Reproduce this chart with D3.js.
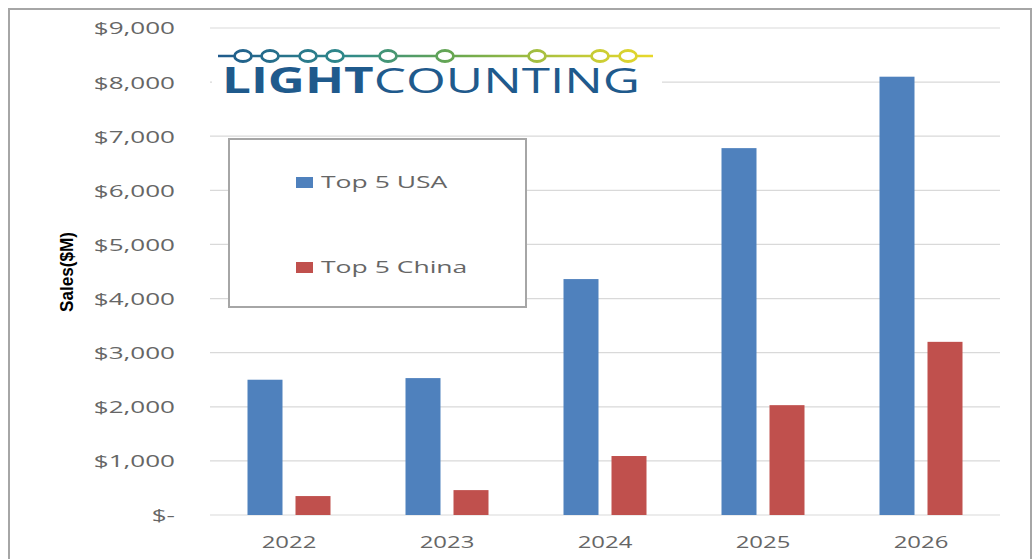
<!DOCTYPE html>
<html>
<head>
<meta charset="utf-8">
<script src="https://cdn.jsdelivr.net/npm/d3@7"></script>
<style>
  html, body { margin: 0; padding: 0; background: #fff; }
  svg { display: block; }
</style>
</head>
<body>
<div id="chart"></div>
<script>
const years = ['2022', '2023', '2024', '2025', '2026'];
const series = ['Top 5 USA', 'Top 5 China'];
const usaSales = [2500, 2530, 4360, 6780, 8100];
const chinaSales = [350, 460, 1090, 2030, 3200];
const yTicks = [0, 1000, 2000, 3000, 4000, 5000, 6000, 7000, 8000, 9000];
const logoDots = [243, 270, 308, 335, 388, 445, 537, 600, 628];

const W = 1035, H = 559;
const plot = { left: 210, right: 1000, top: 28, bottom: 515 };
const colors = { 'Top 5 USA': '#4f81bd', 'Top 5 China': '#c0504d' };
const textGray = '#666666';
const stretch = 1.45; // source image is widened horizontally

const svg = d3.select('#chart').append('svg')
  .attr('width', W)
  .attr('height', H);

// outer chart frame
svg.append('rect')
  .attr('x', 9).attr('y', 9)
  .attr('width', 1022).attr('height', H)
  .attr('fill', '#fff')
  .attr('stroke', '#a6a6a6')
  .attr('stroke-width', 2);

const x0 = d3.scaleBand()
  .domain(years)
  .range([plot.left, plot.right])
  .padding(0);

const groupW = 83;
const x1 = d3.scaleBand()
  .domain(series)
  .range([(x0.bandwidth() - groupW) / 2, (x0.bandwidth() + groupW) / 2])
  .paddingInner(13 / 48);

const y = d3.scaleLinear()
  .domain([0, 9000])
  .range([plot.bottom, plot.top]);

// gridlines
svg.append('g')
  .selectAll('line')
  .data(yTicks)
  .enter()
  .append('line')
  .attr('x1', plot.left)
  .attr('x2', plot.right)
  .attr('y1', d => y(d))
  .attr('y2', d => y(d))
  .attr('stroke', '#d9d9d9')
  .attr('stroke-width', 1.2);

// y axis labels
const fmt = d3.format(',');
const yAxis = svg.append('g')
  .attr('transform', 'translate(175,0)')
  .call(d3.axisLeft(y).tickValues(yTicks).tickSize(0).tickPadding(0)
    .tickFormat(d => d === 0 ? '$-' : '$' + fmt(d)));
yAxis.select('.domain').remove();
yAxis.selectAll('text')
  .attr('x', 0)
  .attr('dy', '0.36em')
  .attr('transform', 'scale(1.58,1)')
  .style('font-family', '"Open Sans", "DejaVu Sans", sans-serif')
  .style('font-size', '16.5px')
  .attr('fill', textGray);

// x axis labels
const xAxis = svg.append('g')
  .attr('transform', `translate(0,${plot.bottom})`)
  .call(d3.axisBottom(x0).tickSize(0).tickPadding(0));
xAxis.select('.domain').remove();
xAxis.selectAll('text')
  .attr('y', 33)
  .attr('dy', 0)
  .attr('transform', `scale(${stretch},1)`)
  .style('font-family', '"Open Sans", "DejaVu Sans", sans-serif')
  .style('font-size', '16.5px')
  .attr('fill', textGray);

// bars
const rows = years.map((yr, i) => ({ year: yr, values: [
  { key: series[0], value: usaSales[i] },
  { key: series[1], value: chinaSales[i] }
] }));

svg.append('g')
  .selectAll('g')
  .data(rows)
  .enter()
  .append('g')
  .attr('transform', d => `translate(${x0(d.year)},0)`)
  .selectAll('rect')
  .data(d => d.values)
  .enter()
  .append('rect')
  .attr('x', d => x1(d.key))
  .attr('y', d => y(d.value))
  .attr('width', x1.bandwidth())
  .attr('height', d => y(0) - y(d.value))
  .attr('fill', d => colors[d.key]);

// y axis title
svg.append('text')
  .attr('transform', 'translate(73,272) rotate(-90)')
  .attr('text-anchor', 'middle')
  .attr('textLength', 80)
  .attr('lengthAdjust', 'spacingAndGlyphs')
  .style('font-family', '"Liberation Sans Narrow", "Liberation Sans", sans-serif')
  .style('font-weight', 'bold')
  .style('font-size', '19px')
  .attr('fill', '#000')
  .text('Sales($M)');

// legend
const legend = svg.append('g');
legend.append('rect')
  .attr('x', 229).attr('y', 139)
  .attr('width', 297).attr('height', 168)
  .attr('fill', '#fff')
  .attr('stroke', '#a6a6a6')
  .attr('stroke-width', 2);

const legendItem = legend.selectAll('.item')
  .data(series)
  .enter()
  .append('g')
  .attr('class', 'item')
  .attr('transform', (d, i) => `translate(296,${177 + i * 85})`);

legendItem.append('rect')
  .attr('width', 17)
  .attr('height', 11)
  .attr('fill', d => colors[d]);

legendItem.append('text')
  .attr('x', 0)
  .attr('y', 11)
  .attr('transform', 'translate(25,0) scale(1.56,1)')
  .style('font-family', '"Open Sans", "DejaVu Sans", sans-serif')
  .style('font-size', '17px')
  .attr('fill', textGray)
  .text(d => d);

// logo
const defs = svg.append('defs');
const grad = defs.append('linearGradient')
  .attr('id', 'logoGrad')
  .attr('gradientUnits', 'userSpaceOnUse')
  .attr('x1', 218).attr('x2', 653)
  .attr('y1', 0).attr('y2', 0);
grad.append('stop').attr('offset', '0%').attr('stop-color', '#1f5a8c');
grad.append('stop').attr('offset', '30%').attr('stop-color', '#2f8a8a');
grad.append('stop').attr('offset', '55%').attr('stop-color', '#6aa84f');
grad.append('stop').attr('offset', '80%').attr('stop-color', '#b8c63a');
grad.append('stop').attr('offset', '100%').attr('stop-color', '#e8d82a');

const logo = svg.append('g');
logo.append('rect')
  .attr('x', 212).attr('y', 40)
  .attr('width', 450).attr('height', 62)
  .attr('fill', '#fff');
logo.append('line')
  .attr('x1', 218).attr('x2', 653)
  .attr('y1', 56).attr('y2', 56)
  .attr('stroke', 'url(#logoGrad)')
  .attr('stroke-width', 2.5);
logo.selectAll('ellipse')
  .data(logoDots)
  .enter()
  .append('ellipse')
  .attr('cx', d => d)
  .attr('cy', 56)
  .attr('rx', 8.5)
  .attr('ry', 5.5)
  .attr('fill', '#fff')
  .attr('stroke', 'url(#logoGrad)')
  .attr('stroke-width', 2.8);

const logoText = logo.append('text')
  .attr('x', 222)
  .attr('y', 93)
  .attr('textLength', 418)
  .attr('lengthAdjust', 'spacingAndGlyphs')
  .style('font-family', '"Open Sans", "DejaVu Sans", sans-serif')
  .style('font-size', '35px')
  .attr('fill', '#1f5a8c');
logoText.append('tspan').style('font-weight', 'bold').text('LIGHT');
logoText.append('tspan').style('font-weight', 'normal').text('COUNTING');
</script>
</body>
</html>
